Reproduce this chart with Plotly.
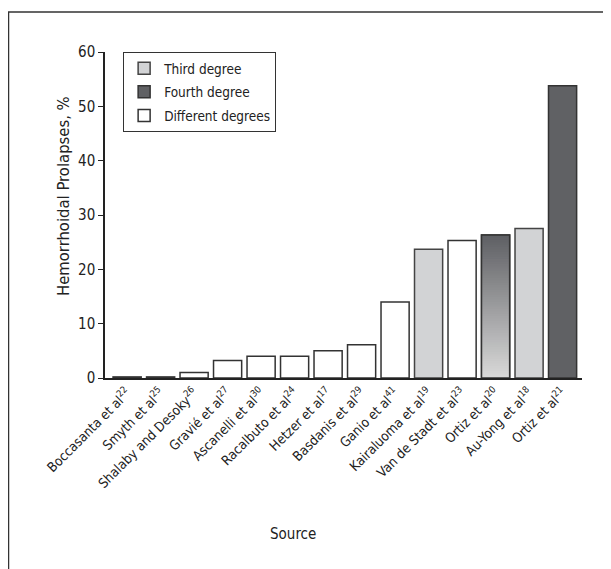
import plotly.graph_objects as go

sources = ["Boccasanta et al<sup>22</sup>", "Smyth et al<sup>25</sup>", "Shalaby and Desoky<sup>26</sup>",
           "Gravié et al<sup>27</sup>", "Ascanelli et al<sup>30</sup>", "Racalbuto et al<sup>24</sup>",
           "Hetzer et al<sup>17</sup>", "Basdanis et al<sup>29</sup>", "Ganio et al<sup>41</sup>",
           "Kairaluoma et al<sup>19</sup>", "Van de Stadt et al<sup>23</sup>", "Ortiz et al<sup>20</sup>",
           "Au-Yong et al<sup>18</sup>", "Ortiz et al<sup>21</sup>"]
values = [0.2, 0.2, 1.0, 3.2, 4.0, 4.0, 5.0, 6.1, 14.0, 23.7, 25.3, 26.3, 27.5, 53.8]
degrees = ["Different", "Different", "Different", "Different", "Different", "Different",
           "Different", "Different", "Different", "Third", "Different", "Gradient", "Third", "Fourth"]
x_title = "Source"
y_title = "Hemorrhoidal Prolapses, %"

FONT = "DejaVu Sans Condensed, Roboto, Arial, sans-serif"
TXT = "#222222"
LIGHT = "#d2d3d5"
DARK = "#606164"
EDGE = "#333333"

fig = go.Figure()

def series(kind_list):
    return [v if d in kind_list else None for v, d in zip(values, degrees)]

fig.add_trace(go.Bar(name="Third degree", x=sources, y=series(["Third"]), legendgroup="a",
                     marker=dict(color=LIGHT, line=dict(color="#444444", width=1.5))))
fig.add_trace(go.Bar(name="Fourth degree", x=sources, y=series(["Fourth", "Gradient"]), legendgroup="b",
                     marker=dict(color=DARK, line=dict(color=EDGE, width=1.5))))
fig.add_trace(go.Bar(name="Different degrees", x=sources, y=series(["Different"]), legendgroup="c",
                     marker=dict(color="white", line=dict(color=EDGE, width=1.5))))

# gradient bar (dark top -> light bottom): overlapping segments each reaching the bar top
N = 60
gx, gy, gb, gc = [], [], [], []
top_rgb = (0x5f, 0x60, 0x64)
bot_rgb = (0xd8, 0xd8, 0xd8)
for s, v, d in zip(sources, values, degrees):
    if d != "Gradient":
        continue
    for i in range(N):
        t = i / (N - 1)  # 0 bottom -> 1 top
        rgb = tuple(int(round(b + (a - b) * t)) for a, b in zip(top_rgb, bot_rgb))
        base = v * i / N
        gx.append(s)
        gy.append(v - base)
        gb.append(base)
        gc.append("rgb(%d,%d,%d)" % rgb)
fig.add_trace(go.Bar(x=gx, y=gy, base=gb, showlegend=False, hoverinfo="skip",
                     marker=dict(color=gc, line=dict(width=0))))
fig.add_trace(go.Bar(x=sources, y=series(["Gradient"]), showlegend=False, hoverinfo="skip",
                     marker=dict(color="rgba(0,0,0,0)", line=dict(color=EDGE, width=1.5))))

W, H = 603, 561
L, T, R_, B_ = 97, 44, 574, 370  # plot area edges in figure pixels
pw, ph = R_ - L, B_ - T
fig.update_layout(
    width=W, height=H,
    margin=dict(l=L, r=W - R_, t=T, b=H - B_),
    barmode="overlay", bargap=0.16,
    paper_bgcolor="white", plot_bgcolor="white",
    font=dict(family=FONT, size=14, color=TXT),
    legend=dict(x=0.038, y=1.0, xanchor="left", yanchor="top",
                bordercolor="#333333", borderwidth=1, bgcolor="white",
                traceorder="grouped", tracegroupgap=3,
                font=dict(family=FONT, size=13.5, color=TXT)),
    showlegend=True,
)
fig.update_xaxes(range=[-0.66, 13.58], showline=True, linecolor="#222222", linewidth=1.5,
                 ticks="", tickangle=-45, tickfont=dict(family=FONT, size=13.5, color=TXT),
                 showgrid=False, zeroline=False, automargin=False)
fig.update_yaxes(range=[0, 60], dtick=10, showline=True, linecolor="#222222", linewidth=1.5,
                 ticks="outside", ticklen=5, tickwidth=1, tickcolor="#222222",
                 tickfont=dict(family=FONT, size=15, color=TXT),
                 showgrid=False, zeroline=False, automargin=False)

fig.add_annotation(text=x_title, xref="paper", yref="paper", x=(285 - L) / pw, y=(B_ - 526) / ph,
                   xanchor="center", yanchor="middle", showarrow=False,
                   font=dict(family=FONT, size=15, color=TXT))
fig.add_annotation(text=y_title, xref="paper", yref="paper", x=(55 - L) / pw, y=(B_ - 188) / ph,
                   xanchor="center", yanchor="middle", showarrow=False, textangle=-90,
                   font=dict(family=FONT, size=16.5, color=TXT))

# outer frame (left and top edges visible)
fig.add_shape(type="rect", xref="paper", yref="paper",
              x0=(0.5 - L) / pw, x1=1.5, y0=-1.0, y1=(B_ - 4) / ph,
              line=dict(color="#333333", width=1.5), fillcolor="rgba(0,0,0,0)", layer="below")

fig.write_html("out.html")
